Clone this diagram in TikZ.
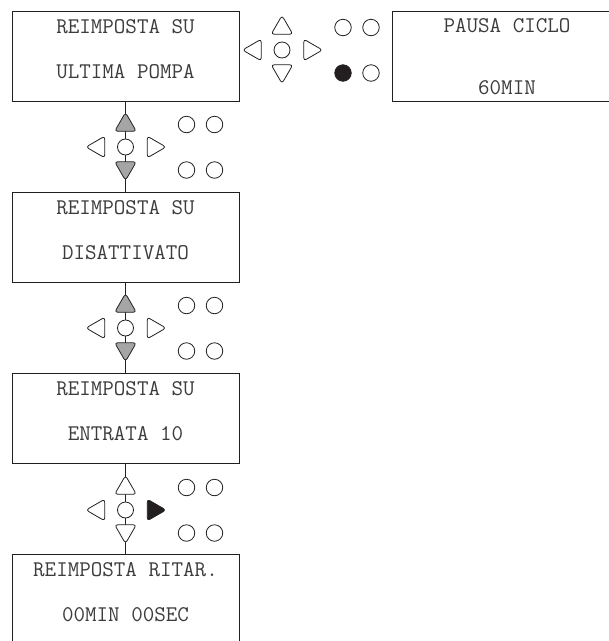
\documentclass[tikz,border=0pt]{standalone}
\usepackage{tikz}
\usetikzlibrary{shapes.geometric,backgrounds}
\definecolor{ink}{RGB}{35,31,32}
\definecolor{lcdtext}{RGB}{60,60,60}
\definecolor{keygray}{RGB}{165,165,165}

\begin{document}
\begin{tikzpicture}[x=1pt,y=-1pt,
  screen/.style={rectangle,draw=ink,line width=1pt,fill=white,
                 minimum width=227pt,minimum height=90pt,inner sep=0pt},
  lcd/.style={font=\fontsize{22.4}{24}\selectfont\ttfamily,text=lcdtext,inner sep=0pt},
  key/.style={regular polygon,regular polygon sides=3,minimum size=25pt,inner sep=0pt,
              draw=ink,line width=0.8pt,rounded corners=3pt},
  knob/.style={circle,draw=ink,line width=0.8pt,fill=white,minimum size=16pt,inner sep=0pt},
  lamp/.style={circle,draw=ink,line width=0.8pt,minimum size=16.5pt,inner sep=0pt},
  wire/.style={draw=ink,line width=1pt}
]
  \useasboundingbox (0,0) rectangle (609,641);

  % display screens
  \node[screen] (s1) at (125.5,56) {};
  \node[screen] (s2) at (125.5,237.5) {};
  \node[screen] (s3) at (125.5,418) {};
  \node[screen] (s4) at (125.5,599.5) {};
  \node[screen] (pause) at (505.5,56) {};

  \node[lcd] (s1a) at ([yshift=-16pt]s1.north) {REIMPOSTA SU};
  \node[lcd] (s1b) at ([yshift=-61pt]s1.north) {ULTIMA POMPA};
  \node[lcd] (s2a) at ([yshift=-16pt]s2.north) {REIMPOSTA SU};
  \node[lcd] (s2b) at ([yshift=-61pt]s2.north) {DISATTIVATO};
  \node[lcd] (s3a) at ([yshift=-16pt]s3.north) {REIMPOSTA SU};
  \node[lcd] (s3b) at ([yshift=-61pt]s3.north) {ENTRATA 10};
  \node[lcd] (s4a) at ([yshift=-16pt]s4.north) {REIMPOSTA RITAR.};
  \node[lcd] (s4b) at ([yshift=-61pt]s4.north) {00MIN 00SEC};
  \node[lcd] (pausea) at ([xshift=1.5pt,yshift=-15pt]pause.north) {PAUSA CICLO};
  \node[lcd] (pauseb) at ([xshift=1.5pt,yshift=-77pt]pause.north) {60MIN};

  % keypads: name / centre / up / down / right / lamp
  \foreach \k/\cx/\cy/\fu/\fd/\fr/\fl in {a/282/50/white/white/white/ink,
      b/125.5/147/keygray/keygray/white/white,
      c/125.5/328/keygray/keygray/white/white,
      d/125.5/510/white/white/ink/white}{
    \node[key,fill=\fu] (\k-up) at (\cx,\cy-22) {};
    \node[key,fill=\fd,shape border rotate=180] (\k-dn) at (\cx,\cy+21) {};
    \node[key,fill=white,shape border rotate=90] (\k-lt) at (\cx-27,\cy) {};
    \node[key,fill=\fr,shape border rotate=270] (\k-rt) at (\cx+28,\cy) {};
    \node[knob] (\k-ok) at (\cx,\cy) {};
    \node[lamp,fill=white] (\k-l1) at (\cx+61,\cy-22.5) {};
    \node[lamp,fill=white] (\k-l2) at (\cx+89,\cy-22.5) {};
    \node[lamp,fill=\fl] (\k-l3) at (\cx+61,\cy+23) {};
    \node[lamp,fill=white] (\k-l4) at (\cx+89,\cy+23) {};
  }

  \begin{scope}[on background layer]
    \draw[wire] (s1.south) -- (s2.north);
    \draw[wire] (s2.south) -- (s3.north);
    \draw[wire] (s3.south) -- (s4.north);
  \end{scope}
\end{tikzpicture}
\end{document}
